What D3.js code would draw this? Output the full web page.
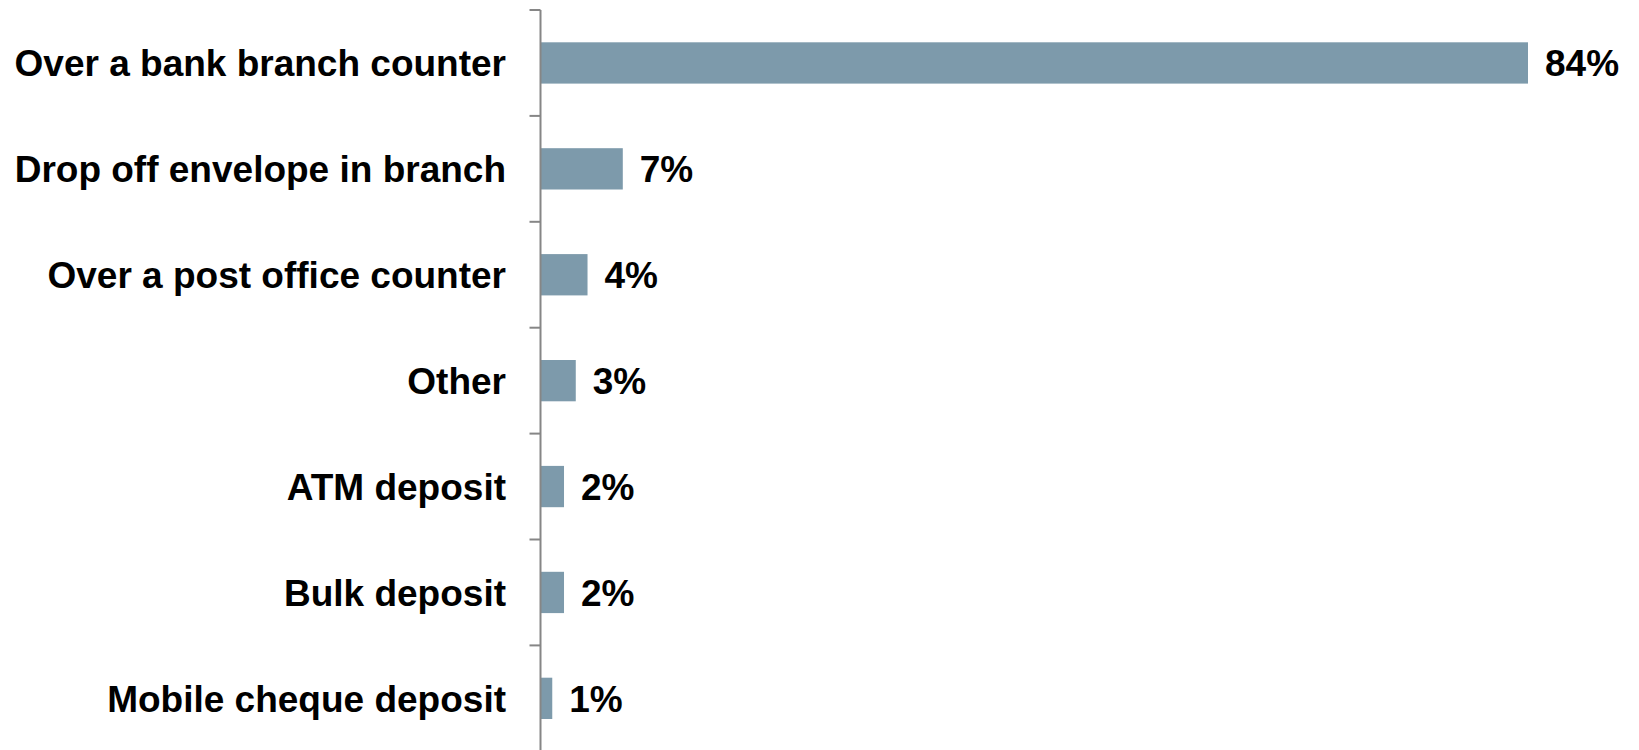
<!DOCTYPE html>
<html>
<head>
<meta charset="utf-8">
<script src="https://cdn.jsdelivr.net/npm/d3@7"></script>
<style>
  html, body { margin: 0; padding: 0; background: #fff; }
  svg { display: block; }
  text { font-family: "Liberation Sans", Arial, sans-serif; font-weight: bold; fill: #000; }
</style>
</head>
<body>
<script>
// Ways of depositing a cheque (share of respondents, %)
const categories = [
  "Over a bank branch counter",
  "Drop off envelope in branch",
  "Over a post office counter",
  "Other",
  "ATM deposit",
  "Bulk deposit",
  "Mobile cheque deposit"
];
const values = [84, 7, 4, 3, 2, 2, 1];
const valueLabels = ["84%", "7%", "4%", "3%", "2%", "2%", "1%"];

const width = 1639, height = 750;
const axisX = 540.5;

const svg = d3.select("body").append("svg")
  .attr("width", width)
  .attr("height", height);

const y = d3.scaleBand()
  .domain(categories)
  .range([10, 10 + 7 * 105.9])
  .paddingInner(0.61)
  .paddingOuter(0.305);

const x = d3.scaleLinear()
  .domain([0, 84])
  .range([axisX, 1528]);

// Bars
svg.append("g")
  .selectAll("rect")
  .data(values)
  .join("rect")
  .attr("x", x(0))
  .attr("y", (d, i) => y(categories[i]))
  .attr("width", d => x(d) - x(0))
  .attr("height", y.bandwidth())
  .attr("fill", "#7d9aab");

// Category axis with ticks at band boundaries
const axisG = svg.append("g");
const step = y.step();
const r0 = y.range()[0];
axisG.append("line")
  .attr("x1", axisX).attr("x2", axisX)
  .attr("y1", r0).attr("y2", r0 + step * categories.length)
  .attr("stroke", "#868686").attr("stroke-width", 2);
axisG.selectAll("line.tick")
  .data(d3.range(categories.length + 1))
  .join("line")
  .attr("class", "tick")
  .attr("x1", axisX - 11).attr("x2", axisX)
  .attr("y1", i => r0 + i * step).attr("y2", i => r0 + i * step)
  .attr("stroke", "#868686").attr("stroke-width", 2);

// Category labels
svg.append("g")
  .selectAll("text")
  .data(categories)
  .join("text")
  .attr("x", 506)
  .attr("y", d => y(d) + y.bandwidth() / 2)
  .attr("dy", "0.36em")
  .attr("text-anchor", "end")
  .style("font-size", "37px")
  .text(d => d);

// Value labels
svg.append("g")
  .selectAll("text")
  .data(values)
  .join("text")
  .attr("x", d => x(d) + 17)
  .attr("y", (d, i) => y(categories[i]) + y.bandwidth() / 2)
  .attr("dy", "0.36em")
  .style("font-size", "37px")
  .text((d, i) => valueLabels[i]);
</script>
</body>
</html>
